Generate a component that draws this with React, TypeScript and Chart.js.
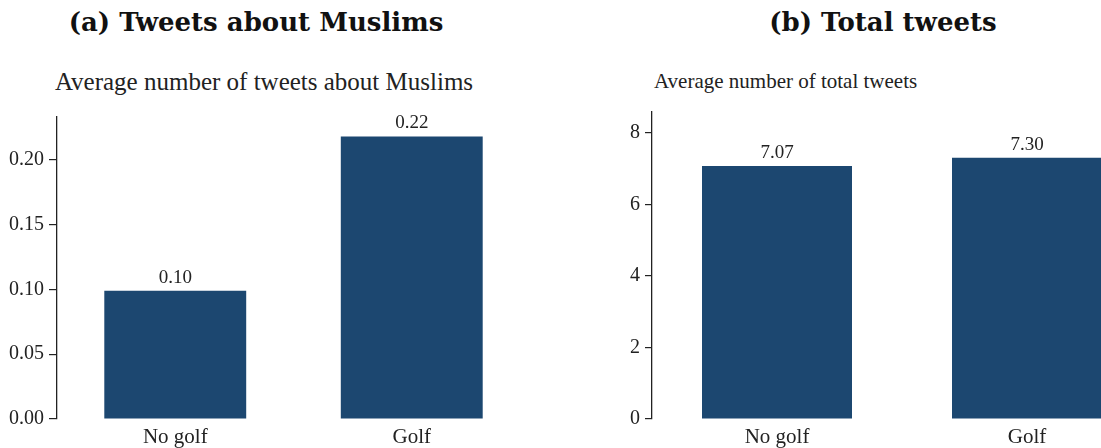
import React, { useEffect, useRef } from "react";
import { Chart, registerables } from "chart.js";

Chart.register(...registerables);

// Group labels shared by both panels
const categories = ["No golf", "Golf"];

// Panel (a): average number of tweets about Muslims
const muslimTweets = [0.099, 0.218];
const muslimTicks = [0, 0.05, 0.1, 0.15, 0.2];
const muslimMax = 0.233;

// Panel (b): average number of total tweets
const totalTweets = [7.07, 7.3];
const totalTicks = [0, 2, 4, 6, 8];
const totalMax = 8.58;

const BAR_COLOR = "#1c4770";
const TEXT_COLOR = "#222222";
const SERIF = "'Liberation Serif', 'Times New Roman', serif";

// Writes each bar's value just above its top edge
const valueLabels = {
  id: "valueLabels",
  afterDatasetsDraw(chart: any, _args: any, opts: any) {
    const { ctx } = chart;
    const meta = chart.getDatasetMeta(0);
    const data = chart.data.datasets[0].data as number[];
    ctx.save();
    ctx.font = `${opts.size}px ${SERIF}`;
    ctx.fillStyle = TEXT_COLOR;
    ctx.textAlign = "center";
    ctx.textBaseline = "alphabetic";
    meta.data.forEach((bar: any, i: number) => {
      ctx.fillText(Number(data[i]).toFixed(2), bar.x, bar.y - opts.offset);
    });
    ctx.restore();
  },
};

type PanelProps = {
  values: number[];
  ticks: number[];
  max: number;
  decimals: number;
  padTop: number;
  axisWidth: number;
  tickLength: number;
  tickSize: number;
  valueSize: number;
  padRight: number;
  width: number;
};

function BarPanel(p: PanelProps) {
  const ref = useRef<HTMLCanvasElement>(null);

  useEffect(() => {
    if (!ref.current) return;
    const chart = new Chart(ref.current, {
      type: "bar",
      data: {
        labels: categories,
        datasets: [
          {
            data: p.values,
            backgroundColor: BAR_COLOR,
            borderWidth: 0,
            barPercentage: 0.6,
            categoryPercentage: 1,
          },
        ],
      },
      options: {
        animation: false,
        responsive: false,
        maintainAspectRatio: false,
        layout: { padding: { left: 8, right: p.padRight, top: p.padTop, bottom: 0 } },
        plugins: {
          legend: { display: false },
          tooltip: { enabled: false },
          valueLabels: { size: p.valueSize, offset: 8 },
        } as any,
        scales: {
          x: {
            grid: { display: false, drawTicks: false },
            border: { display: false },
            ticks: {
              color: TEXT_COLOR,
              font: { family: SERIF, size: 21 },
              padding: 6,
            },
            afterFit: (scale: any) => {
              scale.height = 29;
            },
          },
          y: {
            min: 0,
            max: p.max,
            grid: {
              drawOnChartArea: false,
              drawTicks: true,
              tickLength: p.tickLength,
              color: TEXT_COLOR,
              lineWidth: 1.2,
            },
            border: { display: true, color: TEXT_COLOR, width: 1.3 },
            ticks: {
              color: TEXT_COLOR,
              font: { family: SERIF, size: p.tickSize },
              padding: 5,
              callback: (v: any) => Number(v).toFixed(p.decimals),
            },
            afterBuildTicks: (scale: any) => {
              scale.ticks = p.ticks.map((v) => ({ value: v }));
            },
            afterFit: (scale: any) => {
              scale.width = p.axisWidth;
            },
          },
        },
      },
      plugins: [valueLabels],
    });
    return () => chart.destroy();
  }, []);

  return <canvas ref={ref} width={p.width} height={448} />;
}

const heading: React.CSSProperties = {
  position: "absolute",
  top: 6,
  fontFamily: "'DejaVu Serif', serif",
  fontWeight: "bold",
  fontSize: 26,
  lineHeight: "32px",
  color: "#111",
  whiteSpace: "nowrap",
  textAlign: "center",
};

export default function App() {
  return (
    <div
      style={{
        position: "fixed",
        left: 0,
        top: 0,
        width: 1101,
        height: 448,
        overflow: "hidden",
        background: "#fff",
      }}
    >
      <div style={{ ...heading, left: 46, width: 420 }}>(a) Tweets about Muslims</div>
      <div style={{ ...heading, left: 723, width: 320 }}>(b) Total tweets</div>

      <div
        style={{
          position: "absolute",
          left: 44,
          width: 440,
          top: 68,
          fontFamily: SERIF,
          fontSize: 25,
          lineHeight: "28px",
          color: TEXT_COLOR,
          textAlign: "center",
          whiteSpace: "nowrap",
        }}
      >
        Average number of tweets about Muslims
      </div>
      <div
        style={{
          position: "absolute",
          left: 654,
          top: 68,
          fontFamily: SERIF,
          fontSize: 21,
          lineHeight: "26px",
          color: TEXT_COLOR,
          whiteSpace: "nowrap",
        }}
      >
        Average number of total tweets
      </div>

      <div style={{ position: "absolute", left: 0, top: 0 }}>
        <BarPanel
          values={muslimTweets}
          ticks={muslimTicks}
          max={muslimMax}
          decimals={2}
          padTop={117}
          axisWidth={49}
          tickLength={8}
          tickSize={20}
          valueSize={19}
          padRight={10}
          width={540}
        />
      </div>
      <div style={{ position: "absolute", left: 600, top: 0 }}>
        <BarPanel
          values={totalTweets}
          ticks={totalTicks}
          max={totalMax}
          decimals={0}
          padTop={112}
          axisWidth={44}
          tickLength={7}
          tickSize={20}
          valueSize={19}
          padRight={8}
          width={560}
        />
      </div>
    </div>
  );
}
